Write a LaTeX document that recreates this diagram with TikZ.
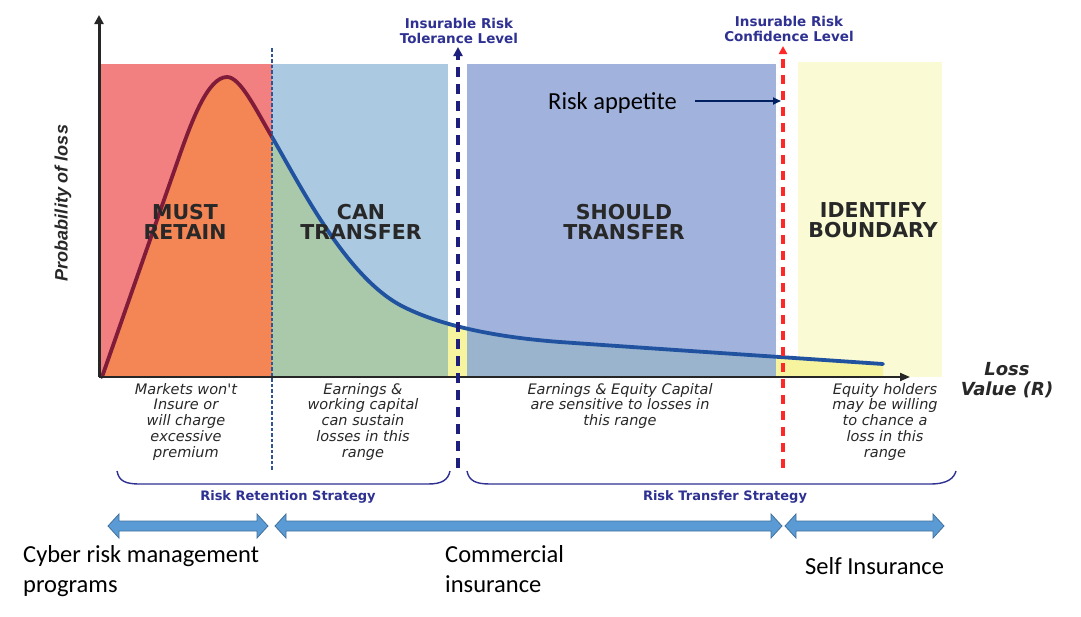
\documentclass[tikz,border=0pt]{standalone}
\usepackage{fontspec}
\setmainfont{DejaVu Sans}
\newfontfamily\dvfont{DejaVu Sans}
\newfontfamily\libfont{Liberation Sans}
\newfontfamily\calfont{Carlito}
\usetikzlibrary{arrows.meta}
\definecolor{regred}{RGB}{242,128,128}
\definecolor{undorange}{RGB}{243,134,84}
\definecolor{reglblue}{RGB}{172,201,226}
\definecolor{undgreen}{RGB}{170,200,170}
\definecolor{regblue}{RGB}{161,179,221}
\definecolor{undblue}{RGB}{155,180,206}
\definecolor{stripyel}{RGB}{246,244,158}
\definecolor{regyel}{RGB}{250,250,212}
\definecolor{curvemaroon}{RGB}{128,28,58}
\definecolor{curveblue}{RGB}{32,82,160}
\definecolor{navytext}{RGB}{46,49,146}
\definecolor{navydash}{RGB}{30,30,125}
\definecolor{reddash}{RGB}{255,40,40}
\definecolor{appnavy}{RGB}{0,32,96}
\definecolor{barfill}{RGB}{91,155,213}
\definecolor{barline}{RGB}{65,113,156}
\definecolor{labgray}{RGB}{40,40,40}
\definecolor{thindash}{RGB}{47,85,151}

\def\lossCurve{(102,377) -- (178,160) .. controls (192,120) and (208,77) .. (227,77) .. controls (240,77) and (255,108) .. (272,137) .. controls (300,185) and (345,275) .. (400,305) .. controls (430,321) and (480,336) .. (560,342) .. controls (630,347) and (780,357) .. (883,364)}

\newcommand\regionfill[5]{%
  \begin{scope}
    \clip (#1,#2) rectangle (#3,377);
    \fill[#4] (#1,#2) rectangle (#3,377);
    \fill[#5] \lossCurve -- (883,377) -- (102,377) -- cycle;
  \end{scope}}

\newcommand\blockarrow[3]{%
  \draw[bararrow] (#1,#3) -- (#1+11,#3-12) -- (#1+11,#3-5) -- (#2-11,#3-5) -- (#2-11,#3-12) -- (#2,#3) -- (#2-11,#3+12) -- (#2-11,#3+5) -- (#1+11,#3+5) -- (#1+11,#3+12) -- cycle;}

\begin{document}
\begin{tikzpicture}[x=1pt,y=-1pt,
  regionlabel/.style={font=\dvfont\bfseries\fontsize{20.5}{19.5}\selectfont, text=labgray, align=center, inner sep=0},
  rangetext/.style={font=\dvfont\itshape\fontsize{14.5}{15.7}\selectfont, text=labgray, align=center, inner sep=0, anchor=north},
  leveltext/.style={font=\dvfont\bfseries\fontsize{13.5}{15}\selectfont, text=navytext, align=center, inner sep=0},
  strattext/.style={font=\dvfont\bfseries\fontsize{13}{15}\selectfont, text=navytext, inner sep=0},
  caltext/.style={font=\calfont\fontsize{24.5}{30}\selectfont, text=black, inner sep=0, align=left},
  bararrow/.style={fill=barfill, draw=barline, line width=0.8},
  bracestyle/.style={draw=navytext, line width=1.4},
  ]
\useasboundingbox (0,0) rectangle (1081,616);
\fill[white] (0,0) rectangle (1081,616);

% regions
\regionfill{99}{64}{272}{regred}{undorange}
\regionfill{272}{64}{448}{reglblue}{undgreen}
\regionfill{448}{64}{467}{white}{stripyel}
\regionfill{467}{64}{776}{regblue}{undblue}
\regionfill{776}{64}{798}{white}{stripyel}
\regionfill{798}{62}{942}{regyel}{stripyel}

% curve
\begin{scope}
  \clip (0,0) rectangle (272,616);
  \draw[curvemaroon, line width=3.8, line cap=round] \lossCurve;
\end{scope}
\begin{scope}
  \clip (272,0) rectangle (1081,616);
  \draw[curveblue, line width=3.8, line cap=round] \lossCurve;
\end{scope}

% thin dashed divider
\coordinate (divTop) at (272,48);
\coordinate (divBot) at (272,471);
\draw[thindash, line width=1.3, dash pattern=on 3.5pt off 2pt] (divTop) -- (divBot);

% axes
\coordinate (O) at (99,377);
\coordinate (yTop) at (99,15);
\coordinate (xEnd) at (910,377);
\draw[black!85, line width=3, -{Triangle[length=9pt,width=9pt]}] (O) -- (yTop);
\draw[black!85, line width=2, -{Triangle[length=10pt,width=8pt]}] (O) -- (xEnd);

% level dashed arrows
\coordinate (tolBot) at (458,468);
\coordinate (tolTop) at (458,47);
\draw[navydash, line width=4, dash pattern=on 10pt off 7pt, -{Triangle[length=9pt,width=9pt]}] (tolBot) -- (tolTop);
\coordinate (confBot) at (783,468);
\coordinate (confTop) at (783,46);
\draw[reddash, line width=3.5, dash pattern=on 9pt off 7pt, -{Triangle[length=8pt,width=8pt]}] (confBot) -- (confTop);

\node[leveltext] (tol) at (459,31) {Insurable Risk\\Tolerance Level};
\node[leveltext] (conf) at (789,29) {Insurable Risk\\Confidence Level};

% region labels
\node[regionlabel] (must) at (185,222) {MUST\\RETAIN};
\node[regionlabel] (can) at (361,222) {CAN\\TRANSFER};
\node[regionlabel] (should) at (624,222) {SHOULD\\TRANSFER};
\node[regionlabel] (identify) at (873,220) {IDENTIFY\\BOUNDARY};

% axis labels
\node[font=\libfont\bfseries\itshape\fontsize{18}{20}\selectfont, text=labgray, rotate=90, inner sep=0] (ylab) at (63,203) {Probability of loss};
\node[font=\dvfont\bfseries\itshape\fontsize{18}{20}\selectfont, text=labgray, align=center, inner sep=0] (xlab) at (1007,380) {Loss\\Value (R)};

% risk appetite
\node[caltext, anchor=base west] (appetite) at (548,109) {Risk appetite};
\coordinate (appStart) at (695,101);
\coordinate (appTip) at (781,101);
\draw[appnavy, line width=2, -{Triangle[length=8pt,width=7pt]}] (appStart) -- (appTip);

% range texts
\node[rangetext] (r1) at (186,383) {Markets won't\\Insure or\\will charge\\excessive\\premium};
\node[rangetext] (r2) at (363,383) {Earnings \&\\working capital\\can sustain\\losses in this\\range};
\node[rangetext] (r3) at (620,383) {Earnings \& Equity Capital\\are sensitive to losses in\\this range};
\node[rangetext] (r4) at (885,383) {Equity holders\\may be willing\\to chance a\\loss in this\\range};

% braces
\coordinate (b1l) at (117,471);
\coordinate (b1r) at (450,471);
\draw[bracestyle] (b1l) .. controls (119,481) and (125,484) .. (140,484) -- (428,484) .. controls (442,484) and (448,480) .. (b1r);
\coordinate (b2l) at (467,471);
\coordinate (b2r) at (956,471);
\draw[bracestyle] (b2l) .. controls (469,481) and (476,484) .. (490,484) -- (930,484) .. controls (948,484) and (954,478) .. (b2r);
\node[strattext] (ret) at (288,497) {Risk Retention Strategy};
\node[strattext] (trans) at (725,497) {Risk Transfer Strategy};

% block arrows
\blockarrow{108}{268}{526}
\blockarrow{275}{782}{526}
\blockarrow{785}{944}{526}

% bottom labels
\node[caltext, anchor=north west] (cyber) at (23,545) {Cyber risk management\\programs};
\node[caltext, anchor=north west] (comm) at (445,545) {Commercial\\insurance};
\node[caltext, anchor=base west] (self) at (805,574) {Self Insurance};
\end{tikzpicture}
\end{document}
